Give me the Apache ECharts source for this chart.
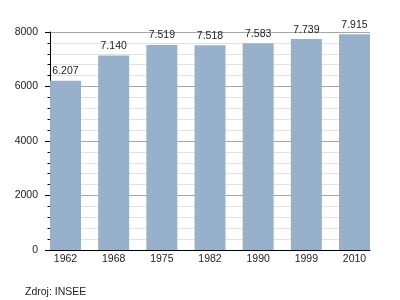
<!DOCTYPE html>
<html>
<head>
<meta charset="utf-8">
<script src="https://cdn.jsdelivr.net/npm/echarts@6/dist/echarts.min.js"></script>
<style>html,body{margin:0;padding:0;background:#fff;}#c{width:400px;height:300px;}</style>
</head>
<body>
<div id="c"></div>
<script>
var years = ['1962', '1968', '1975', '1982', '1990', '1999', '2010'];
var population = [6207, 7140, 7519, 7518, 7583, 7739, 7915];
var yTicks = [0, 2000, 4000, 6000, 8000];
var sourceText = 'Zdroj: INSEE';

var font = 'Liberation Sans, Arial, sans-serif';
var fs = 10.5;
var chart = echarts.init(document.getElementById('c'), null, {renderer: 'canvas'});
chart.setOption({
  animation: false,
  backgroundColor: '#ffffff',
  title: {
    text: sourceText, left: 20, top: 282,
    textStyle: {fontSize: fs, fontWeight: 'normal', color: '#222', fontFamily: font}
  },
  grid: [
    {left: 50, right: 30, top: 32, bottom: 50},
    {left: 65.5, right: 45.5, top: 32, bottom: 50}
  ],
  xAxis: [
    {type: 'category', gridIndex: 0, data: years, boundaryGap: true,
     axisLine: {show: true, lineStyle: {color: '#000', width: 1}},
     axisTick: {show: false}, axisLabel: {show: false}, splitLine: {show: false}},
    {type: 'category', gridIndex: 1, data: years, boundaryGap: false,
     axisLine: {show: false}, axisTick: {show: false},
     axisLabel: {show: true, fontSize: fs, color: '#222', fontFamily: font, margin: 4},
     splitLine: {show: false}}
  ],
  yAxis: [
    {type: 'value', gridIndex: 0, min: yTicks[0], max: yTicks[yTicks.length - 1], interval: 2000,
     axisLine: {show: true, lineStyle: {color: '#000', width: 1}},
     axisTick: {show: true, length: 5, lineStyle: {color: '#000'}},
     minorTick: {show: true, splitNumber: 5, length: 2.5, lineStyle: {color: '#000'}},
     minorSplitLine: {show: true, lineStyle: {color: '#e2e2e2', width: 1}},
     splitLine: {show: true, lineStyle: {color: '#a6a6a6', width: 1}},
     axisLabel: {fontSize: fs, color: '#222', fontFamily: font, margin: 12,
       formatter: function (v) { return String(v); }}},
    {type: 'value', gridIndex: 1, min: yTicks[0], max: yTicks[yTicks.length - 1],
     show: false, splitLine: {show: false}}
  ],
  series: [{
    type: 'bar', xAxisIndex: 1, yAxisIndex: 1, data: population, barWidth: 31, clip: false,
    itemStyle: {color: '#97b1cd'},
    label: {show: true, position: 'top', distance: 4, fontSize: fs, color: '#222', fontFamily: font,
      formatter: function (p) { return (p.value / 1000).toFixed(3); }}
  }]
});
</script>
</body>
</html>
